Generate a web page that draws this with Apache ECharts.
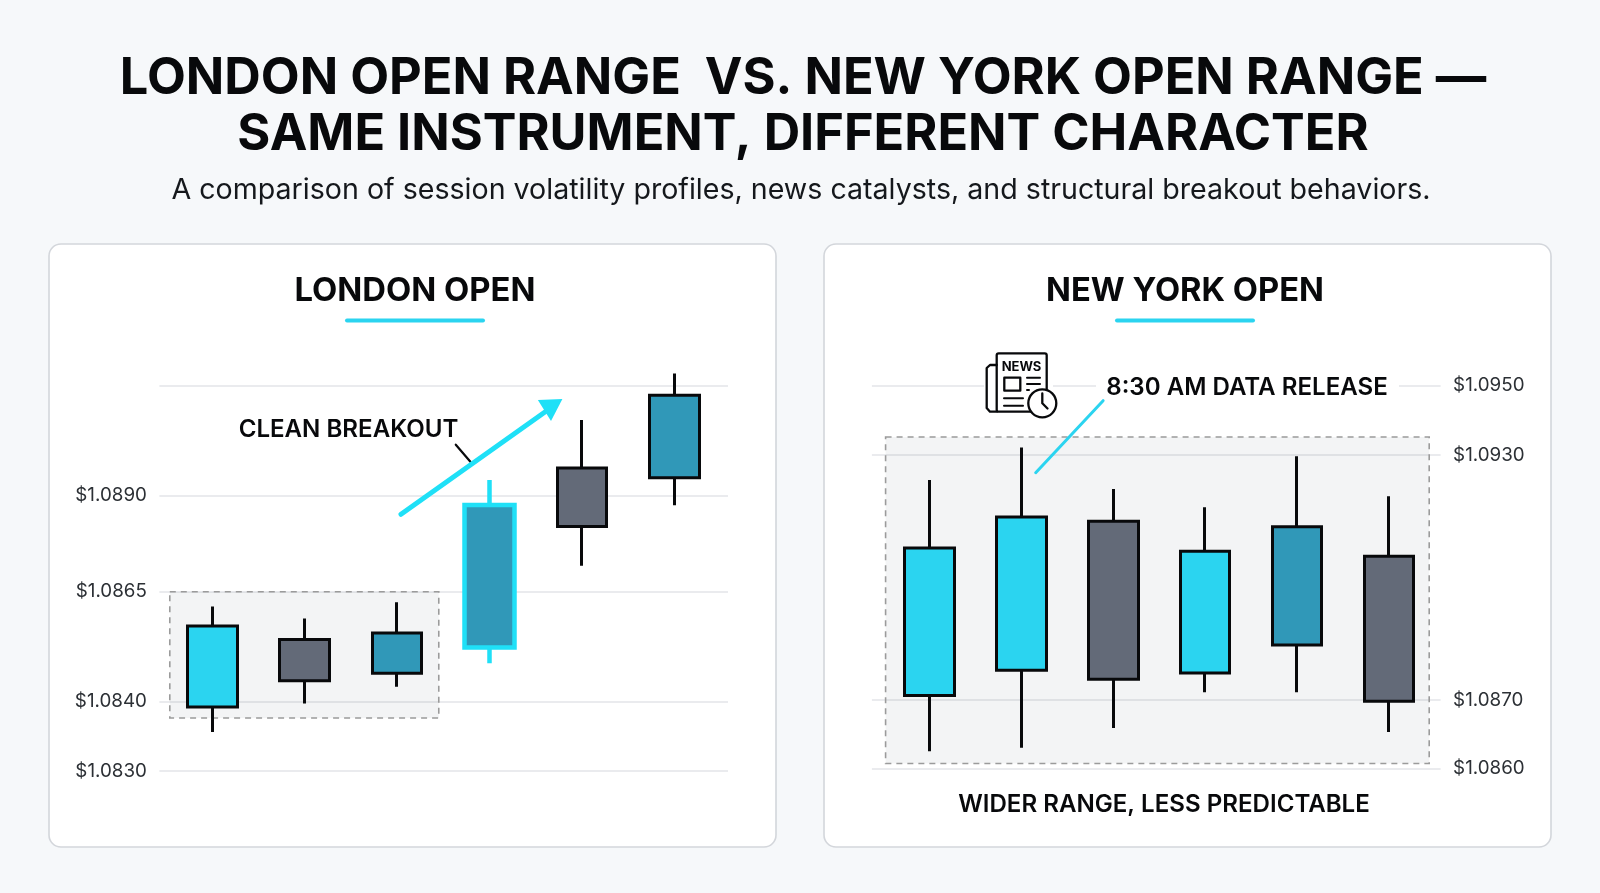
<!DOCTYPE html>
<html><head><meta charset="utf-8">
<style>html,body{margin:0;padding:0;background:#f6f8fa}#c{width:1600px;height:893px}</style>
<script src="https://cdn.jsdelivr.net/npm/echarts@6/dist/echarts.min.js"></script>
</head><body><div id="c"></div>
<script>
// ---- data ----
const leftTicks   = [1.0830, 1.0840, 1.0865, 1.0890, 1.0915];
const leftLabels  = ['$1.0830', '$1.0840', '$1.0865', '$1.0890', ''];
const leftOpen    = [1.08392, 1.08541, 1.08464, 1.08523, 1.08962, 1.08940];
const leftClose   = [1.08572, 1.08447, 1.08556, 1.08875, 1.08819, 1.09128];
const leftLow     = [1.08356, 1.08397, 1.08433, 1.08487, 1.08717, 1.08874];
const leftHigh    = [1.08616, 1.08589, 1.08626, 1.08935, 1.09072, 1.09178];
const leftKinds   = ['cyan', 'grey', 'teal', 'breakout', 'grey', 'teal'];
const leftRange   = [1.0865, 1.08376];

const rightTicks  = [1.0860, 1.0870, 1.0930, 1.0950];
const rightLabels = ['$1.0860', '$1.0870', '$1.0930', '$1.0950'];
const rightOpen   = [1.08711, 1.08773, 1.09138, 1.08766, 1.08835, 1.09052];
const rightClose  = [1.09072, 1.09148, 1.08751, 1.09064, 1.09124, 1.08698];
const rightLow    = [1.08625, 1.08630, 1.08659, 1.08719, 1.08719, 1.08653];
const rightHigh   = [1.09239, 1.09322, 1.09217, 1.09172, 1.09297, 1.09199];
const rightKinds  = ['cyan', 'cyan', 'grey', 'cyan', 'teal', 'grey'];
const rightRange  = [1.09352, 1.08607];

// ---- the reference's price axes are not evenly spaced: tick spacing per axis ----
const leftScale  = {base: 29,   gaps: [69.7, 109.6, 96.4, 109.6]};
const rightScale = {base: 31.7, gaps: [68.3, 245, 69.3]};

function makeWarp(ticks, scale) {
  const pos = [scale.base];
  scale.gaps.forEach(g => pos.push(pos[pos.length - 1] + g));
  return function (p) {
    let i = 0;
    while (i < ticks.length - 2 && p > ticks[i + 1]) i++;
    return pos[i] + (p - ticks[i]) / (ticks[i + 1] - ticks[i]) * (pos[i + 1] - pos[i]);
  };
}
const warpL = makeWarp(leftTicks, leftScale);
const warpR = makeWarp(rightTicks, rightScale);

const CYAN = '#2BD4F0', GREY = '#636A78', TEAL = '#3098B8', INK = '#08090b', BRIGHT = '#1fe0f7';
const kindStyle = {
  cyan: {fill: CYAN, line: INK, w: 3},
  grey: {fill: GREY, line: INK, w: 3},
  teal: {fill: TEAL, line: INK, w: 3},
  breakout: {fill: TEAL, line: BRIGHT, w: 4.5}
};
function candles(open, close, low, high, kinds, warp) {
  return open.map((o, i) => {
    const s = kindStyle[kinds[i]];
    return {
      value: [i, warp(o), warp(close[i]), warp(low[i]), warp(high[i])],
      itemStyle: {color: s.fill, color0: s.fill, borderColor: s.line, borderColor0: s.line, borderWidth: s.w}
    };
  });
}
function rangeArea(x0, x1, r, warp) {
  return {
    silent: true,
    itemStyle: {color: 'rgba(40,50,75,0.055)', borderColor: '#9b9b9b', borderWidth: 1.6, borderType: [6, 5]},
    data: [[{coord: [x0, warp(r[0])]}, {coord: [x1, warp(r[1])]}]]
  };
}
function yAxis(idx, pos, ticks, labels, warp) {
  const vals = ticks.map(warp);
  return {
    type: 'value', gridIndex: idx, position: pos, min: 0, max: 460, inverse: false,
    axisLine: {show: false},
    axisTick: {show: false, customValues: vals},
    splitLine: {show: true, lineStyle: {color: '#e3e5e8', width: 1.6}},
    axisLabel: {
      customValues: vals, margin: 12.5, color: '#2c3035',
      fontFamily: 'Inter', fontSize: 18.8, padding: [3, 0, 0, 0],
      formatter: v => {
        let best = 0;
        vals.forEach((u, i) => { if (Math.abs(u - v) < Math.abs(vals[best] - v)) best = i; });
        return labels[best];
      }
    }
  };
}
const FONT = 'Inter';
function txt(t, x, y, size, weight, color, z) {
  return {type: 'text', z: z || 20, style: {text: t, x, y, fontFamily: FONT, fontSize: size, fontWeight: weight,
    fill: color || '#08090b', align: 'center', verticalAlign: 'middle'}};
}
function panel(x, y, w, h) {
  return {type: 'rect', z: -10, shape: {x, y, width: w, height: h, r: 12},
    style: {fill: '#ffffff', stroke: '#d3d6db', lineWidth: 1.6}};
}
function line(x1, y1, x2, y2, w, c, z) {
  return {type: 'line', z: z || 20, shape: {x1, y1, x2, y2}, style: {stroke: c, lineWidth: w, lineCap: 'round'}};
}
const inkLine = {stroke: INK, lineWidth: 2.3, fill: 'none', lineCap: 'round', lineJoin: 'round'};
const graphics = [
  panel(49, 244, 727, 603),
  panel(824, 244, 727, 603),
  txt('LONDON OPEN RANGE  VS. NEW YORK OPEN RANGE —', 803, 79, 50.5, 700),
  txt('SAME INSTRUMENT, DIFFERENT CHARACTER', 803, 135, 50.5, 700),
  txt('A comparison of session volatility profiles, news catalysts, and structural breakout behaviors.', 801, 190, 28.6, 400, '#15181c'),
  txt('LONDON OPEN', 415, 291, 32.8, 700),
  txt('NEW YORK OPEN', 1185, 291, 32.7, 700),
  {type: 'rect', z: 20, shape: {x: 345, y: 318.5, width: 140, height: 4, r: 2}, style: {fill: CYAN}},
  {type: 'rect', z: 20, shape: {x: 1115, y: 318.5, width: 140, height: 4, r: 2}, style: {fill: CYAN}},
  txt('CLEAN BREAKOUT', 348.5, 430, 24.1, 600),
  line(455.8, 444.7, 470.4, 461.7, 2.2, INK),
  line(401, 514.3, 552, 407, 5, BRIGHT),
  {type: 'polygon', z: 21, shape: {points: [[562.4, 399], [537.9, 400], [551, 421]]}, style: {fill: BRIGHT}},
  txt('WIDER RANGE, LESS PREDICTABLE', 1164, 805, 24.1, 600),
  {type: 'rect', z: 18, shape: {x: 1096, y: 372, width: 303, height: 28}, style: {fill: '#ffffff'}},
  txt('8:30 AM DATA RELEASE', 1247, 388, 24.1, 600),
  line(1103.1, 400.7, 1035.7, 472.7, 3, CYAN),
  // news icon
  {type: 'rect', z: 18, shape: {x: 984, y: 372, width: 69, height: 28}, style: {fill: '#ffffff'}},
  {type: 'rect', z: 20, shape: {x: 996.7, y: 353.3, width: 50, height: 58.4, r: 2}, style: Object.assign({}, inkLine, {fill: '#fff'})},
  {type: 'polyline', z: 20, shape: {points: [[996.7, 365], [990, 365], [986.7, 368], [986.7, 408], [990, 411.7], [996.7, 411.7]]}, style: inkLine},
  txt('NEWS', 1021.5, 367, 13, 700, INK, 21),
  {type: 'rect', z: 21, shape: {x: 1004.3, y: 377.7, width: 16, height: 13}, style: inkLine},
  line(1027, 377.7, 1040, 377.7, 2, INK, 21),
  line(1027, 384, 1040, 384, 2, INK, 21),
  line(1027, 390, 1029, 390, 2, INK, 21),
  line(1004, 398.3, 1023, 398.3, 2, INK, 21),
  line(1004, 405.7, 1023, 405.7, 2, INK, 21),
  {type: 'circle', z: 22, shape: {cx: 1042.3, cy: 403.3, r: 14}, style: {fill: '#fff', stroke: INK, lineWidth: 2.3}},
  {type: 'polyline', z: 23, shape: {points: [[1042.3, 393.5], [1042.3, 403.3], [1047.5, 408.5]]}, style: inkLine}
];

const chart = echarts.init(document.getElementById('c'), null, {renderer: 'canvas'});
chart.setOption({
  animation: false,
  backgroundColor: '#f6f8fa',
  tooltip: {show: false},
  grid: [
    {left: 159.4, width: 568.6, top: 340, height: 460},
    {left: 871.9, width: 568.7, top: 340, height: 460}
  ],
  xAxis: [
    {type: 'value', gridIndex: 0, min: -0.5725, max: 5.581, show: false},
    {type: 'value', gridIndex: 1, min: -0.627, max: 5.561, show: false}
  ],
  yAxis: [
    yAxis(0, 'left', leftTicks, leftLabels, warpL),
    yAxis(1, 'right', rightTicks, rightLabels, warpR)
  ],
  graphic: {elements: graphics},
  series: [
    {type: 'candlestick', name: 'London Open', xAxisIndex: 0, yAxisIndex: 0, barWidth: 50,
     data: candles(leftOpen, leftClose, leftLow, leftHigh, leftKinds, warpL),
     markArea: rangeArea(-0.46, 2.451, leftRange, warpL)},
    {type: 'candlestick', name: 'New York Open', xAxisIndex: 1, yAxisIndex: 1, barWidth: 50,
     data: candles(rightOpen, rightClose, rightLow, rightHigh, rightKinds, warpR),
     markArea: rangeArea(-0.478, 5.437, rightRange, warpR)}
  ]
});
</script></body></html>
